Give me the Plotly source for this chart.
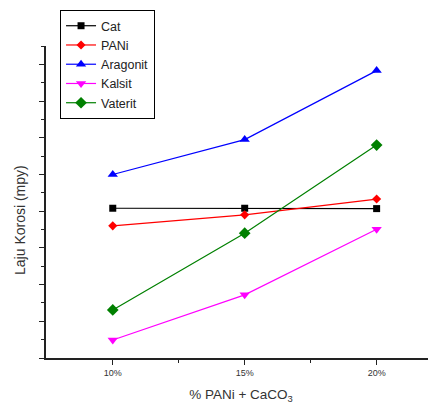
import plotly.graph_objects as go

x_vals = [10, 15, 20]
x_ticklabels = ["10%", "15%", "20%"]
series_names = ["Cat", "PANi", "Aragonit", "Kalsit", "Vaterit"]
cat = [4.08, 4.08, 4.07]
pani = [3.60, 3.90, 4.33]
aragonit = [5.00, 5.95, 7.83]
kalsit = [0.49, 1.72, 3.51]
vaterit = [1.31, 3.40, 5.80]

series_values = [cat, pani, aragonit, kalsit, vaterit]
colors = ["#000000", "#FF0000", "#0000FF", "#FF00FF", "#008000"]
symbols = ["square", "diamond", "triangle-up", "triangle-down", "diamond"]
sizes = [7, 7, 9, 9, 9]

fig = go.Figure()
for name, vals, c, s, sz in zip(series_names, series_values, colors, symbols, sizes):
    fig.add_trace(go.Scatter(
        x=x_vals, y=vals, name=name, mode="lines+markers",
        line=dict(color=c, width=1.2),
        marker=dict(color=c, symbol=s, size=sz, line=dict(width=0)),
    ))

fig.add_annotation(
    text="Laju Korosi (mpy)", xref="paper", yref="paper",
    x=-0.067, y=0.394, xanchor="center", yanchor="middle",
    textangle=-90, showarrow=False,
    font=dict(size=14, color="#333333"),
)

fig.update_layout(
    width=436, height=410,
    margin=dict(l=38, r=8, t=0, b=60),
    paper_bgcolor="white", plot_bgcolor="white",
    font=dict(family="Liberation Sans, Arial", color="#333333"),
    showlegend=True,
    legend=dict(
        x=0.036, y=0.994, xanchor="left", yanchor="top",
        bordercolor="#000000", borderwidth=1, bgcolor="white",
        font=dict(size=12.5, color="#222222"),
        tracegroupgap=0, itemwidth=30,
    ),
    xaxis=dict(
        range=[7.47, 22.25], tickvals=x_vals, ticktext=x_ticklabels, automargin=False,
        showgrid=False, zeroline=False, showline=True, linecolor="#222222", linewidth=1.5,
        ticks="outside", ticklen=5, tickcolor="#222222", tickwidth=1,
        tickfont=dict(size=9, color="#333333"),
        minor=dict(tickvals=[12.5, 17.5], ticks="outside", ticklen=3, tickcolor="#222222", tickwidth=1),
        title=dict(text="% PANi + CaCO<sub>3</sub>", font=dict(size=13.5, color="#333333"), standoff=13),
    ),
    yaxis=dict(
        domain=[0, 0.8914],
        range=[0, 8.5], dtick=1, showticklabels=False, automargin=False,
        showgrid=False, zeroline=False, showline=True, linecolor="#222222", linewidth=1.5,
        ticks="outside", ticklen=5, tickcolor="#222222", tickwidth=1,
        minor=dict(dtick=0.5, ticks="outside", ticklen=3, tickcolor="#222222", tickwidth=1),
    ),
)

fig.write_html("out.html")
